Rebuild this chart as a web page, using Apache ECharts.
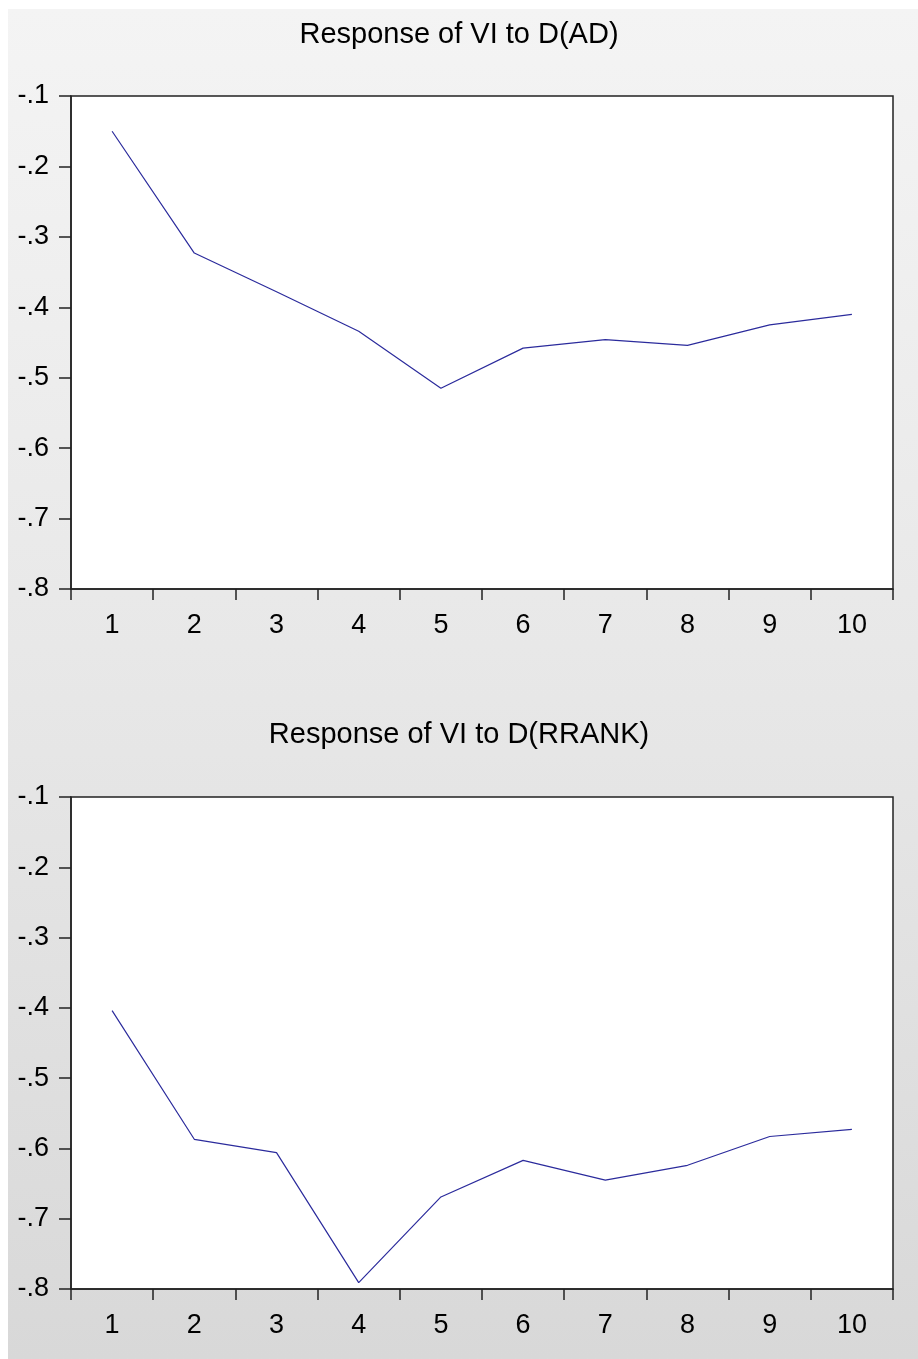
<!DOCTYPE html>
<html>
<head>
<meta charset="utf-8">
<script src="https://cdn.jsdelivr.net/npm/echarts@6/dist/echarts.min.js"></script>
<style>
  html, body { margin: 0; padding: 0; background: #ffffff; }
  #wrap { position: relative; width: 918px; height: 1359px; }
  #shade { position: absolute; left: 8px; top: 9px; right: 0; bottom: 0;
           background: linear-gradient(to bottom, #f4f4f4 0%, #e6e6e6 55%, #d8d8d8 100%); }
  #chart { position: absolute; left: 0; top: 0; width: 918px; height: 1359px; }
</style>
</head>
<body>
<div id="wrap">
  <div id="shade"></div>
  <div id="chart"></div>
</div>
<script>
// Impulse-response periods
const periods = ['1', '2', '3', '4', '5', '6', '7', '8', '9', '10'];

// Response of VI to a shock in D(AD)
const responseAD = [-0.150, -0.323, -0.378, -0.434, -0.515, -0.458, -0.446, -0.454, -0.425, -0.410];

// Response of VI to a shock in D(RRANK)
const responseRRANK = [-0.404, -0.587, -0.606, -0.791, -0.669, -0.617, -0.645, -0.624, -0.583, -0.573];

const titles = ['Response of VI to D(AD)', 'Response of VI to D(RRANK)'];

const FONT = '"Liberation Sans", Arial, sans-serif';
const yFormat = v => {
  const s = (Math.round(v * 10) / 10).toFixed(1);
  return s.replace(/^(-?)0\./, '$1.');
};

const grids = [
  { left: 71, top: 96, width: 822, height: 493 },
  { left: 71, top: 797, width: 822, height: 492 }
];

const chart = echarts.init(document.getElementById('chart'), null, { renderer: 'canvas' });

chart.setOption({
  backgroundColor: 'transparent',
  animation: false,
  title: [
    { text: titles[0], left: 'center', top: 15,
      textStyle: { fontFamily: FONT, fontSize: 29, fontWeight: 'normal', color: '#000' } },
    { text: titles[1], left: 'center', top: 715,
      textStyle: { fontFamily: FONT, fontSize: 29, fontWeight: 'normal', color: '#000' } }
  ],
  grid: grids.map(g => Object.assign({
    show: true, backgroundColor: '#ffffff', borderColor: '#222', borderWidth: 1.5
  }, g)),
  xAxis: [0, 1].map(i => ({
    type: 'category', gridIndex: i, data: periods, boundaryGap: true,
    axisLine: { lineStyle: { color: '#222', width: 1.5 } },
    axisTick: { show: true, length: 11, inside: false, alignWithLabel: false,
                lineStyle: { color: '#222', width: 1.5 } },
    axisLabel: { fontFamily: FONT, fontSize: 27, color: '#000', margin: 23 },
    splitLine: { show: false }
  })),
  yAxis: [0, 1].map(i => ({
    type: 'value', gridIndex: i, min: -0.8, max: -0.1, interval: 0.1,
    axisLine: { show: true, lineStyle: { color: '#222', width: 1.5 } },
    axisTick: { show: true, length: 12, inside: false, lineStyle: { color: '#222', width: 1.5 } },
    axisLabel: { fontFamily: FONT, fontSize: 27, color: '#000', margin: 22, formatter: yFormat },
    splitLine: { show: false }
  })),
  series: [
    { type: 'line', xAxisIndex: 0, yAxisIndex: 0, data: responseAD, symbol: 'none',
      lineStyle: { color: '#2b2b9c', width: 1.2 } },
    { type: 'line', xAxisIndex: 1, yAxisIndex: 1, data: responseRRANK, symbol: 'none',
      lineStyle: { color: '#2b2b9c', width: 1.2 } }
  ]
});
</script>
</body>
</html>
